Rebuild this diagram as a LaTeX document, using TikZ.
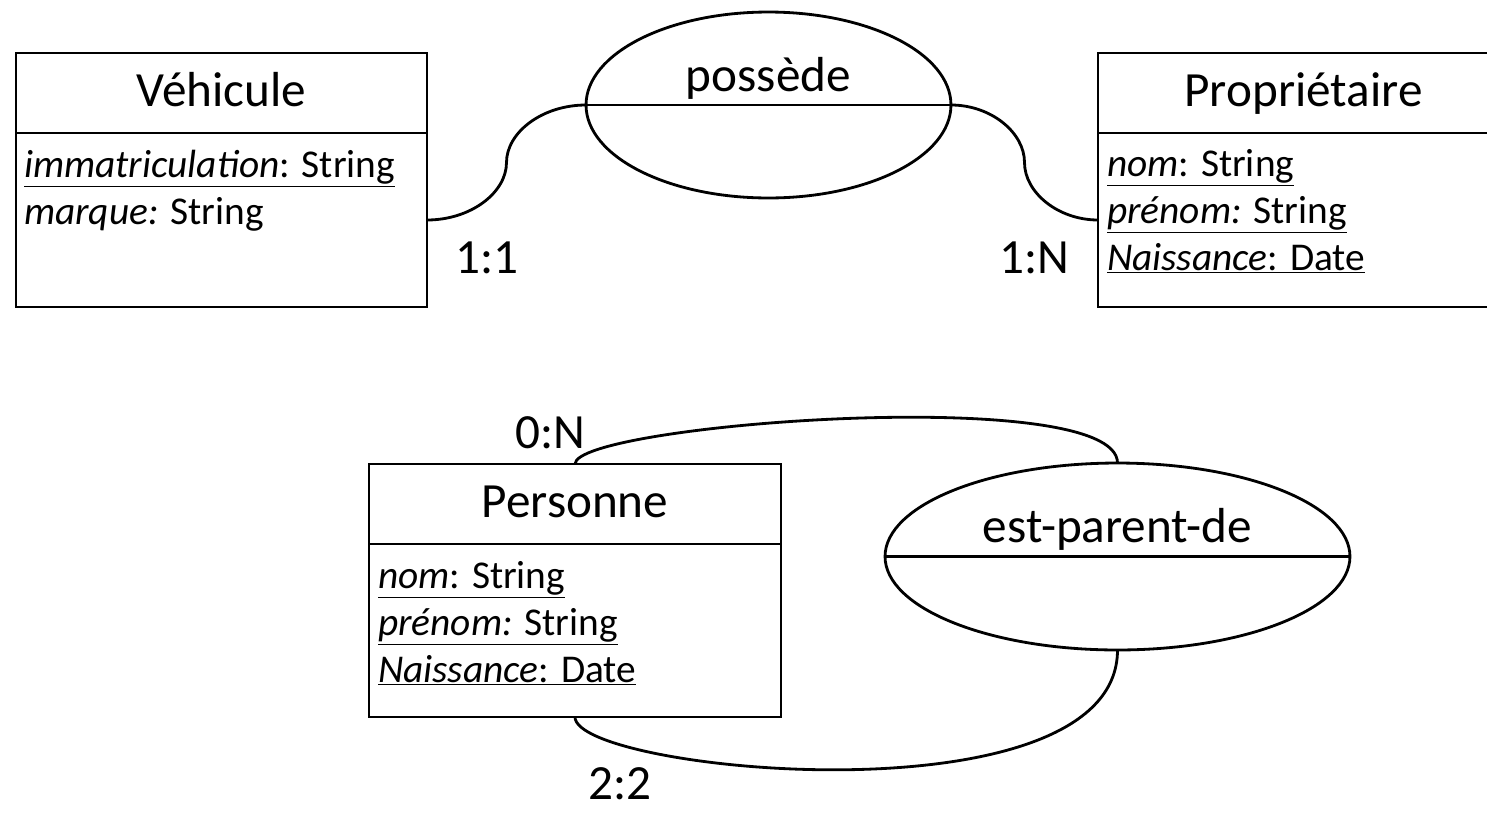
\documentclass[tikz,border=0pt]{standalone}
\usepackage{fontspec}
\setmainfont{Carlito}
\usetikzlibrary{shapes.geometric,calc}
\newcommand{\ttlsize}{\fontsize{28}{33}\selectfont}
\newcommand{\attsize}{\fontsize{22.4}{27}\selectfont}

\begin{document}
\begin{tikzpicture}[x=0.02cm,y=-0.02cm,line width=1.6pt,
    every node/.style={inner sep=0pt,outer sep=0pt},
    titlebox/.style={draw,minimum width=8.22cm,minimum height=1.6cm,text height=15.9pt,text depth=0pt,font=\ttlsize},
    attbox/.style={draw,minimum width=8.22cm,minimum height=3.48cm},
    attr/.style={anchor=base west,font=\attsize},
    relship/.style={draw,ellipse},
    card/.style={font=\ttlsize}]

            \useasboundingbox (0,0) rectangle (1487,812);
            \clip (0,0) rectangle (1487,812);

            % Entity: Vehicule
            \node[titlebox] (vehtitle) at (221.5,93) {Véhicule};
            \node[attbox] (vehattr) at (221.5,220) {};
            \node[attr] (vehA) at ($(vehattr.north west)+(8,44)$) {\underline{\textit{immatriculation}: String}};
            \node[attr] (vehB) at ($(vehA.base west)+(0,47)$) {\textit{marque:} String};

            % Entity: Proprietaire
            \node[titlebox] (protitle) at (1303.5,93) {Propriétaire};
            \node[attbox] (proattr) at (1303.5,220) {};
            \node[attr] (proA) at ($(proattr.north west)+(9,43)$) {\underline{\textit{nom}: String}};
            \node[attr] (proB) at ($(proA.base west)+(0,47)$) {\underline{\textit{prénom:} String}};
            \node[attr] (proC) at ($(proB.base west)+(0,47)$) {\underline{\textit{Naissance}: Date}};

            % Relationship: possede
            \node[relship,minimum width=7.3cm,minimum height=3.72cm] (pos) at (768.5,105) {};
            \draw (pos.west) -- (pos.east);
            \node[anchor=base,font=\ttlsize] (posname) at ($(pos.center)+(0,-14)$) {possède};

            % S-shaped links, vertical in the middle
            \coordinate (m1) at ($(vehattr.east)!0.5!(pos.west)$);
            \coordinate (m2) at ($(pos.east)!0.5!(proattr.west)$);
            \draw (vehattr.east) .. controls +(44,0) and +(0,30) .. (m1)
                                 .. controls +(0,-30) and +(-44,0) .. (pos.west);
            \draw (pos.east) .. controls +(40,0) and +(0,-30) .. (m2)
                             .. controls +(0,30) and +(-40,0) .. (proattr.west);

            \node[card] (c11) at (487,258) {1:1};
            \node[card] (c1N) at (1034,258) {1:N};

            % Entity: Personne
            \node[titlebox,minimum width=8.24cm] (pertitle) at (575,504) {Personne};
            \node[attbox,minimum width=8.24cm,minimum height=3.46cm] (perattr) at (575,630.5) {};
            \node[attr] (perA) at ($(perattr.north west)+(9,44)$) {\underline{\textit{nom}: String}};
            \node[attr] (perB) at ($(perA.base west)+(0,47)$) {\underline{\textit{prénom:} String}};
            \node[attr] (perC) at ($(perB.base west)+(0,47)$) {\underline{\textit{Naissance}: Date}};

            % Relationship: est-parent-de
            \node[relship,minimum width=9.3cm,minimum height=3.74cm] (rel) at (1117.5,556.5) {};
            \draw (rel.west) -- (rel.east);
            \node[anchor=base,font=\ttlsize] (relname) at ($(rel.center)+(0,-14)$) {est-parent-de};

            \draw (pertitle.north) .. controls +(0,-40) and +(0,-80) .. (rel.north);
            \draw (perattr.south) .. controls +(0,55) and +(0,175) .. (rel.south);

            \node[card] (c0N) at (550,433) {0:N};
            \node[card] (c22) at (620,784) {2:2};

\end{tikzpicture}
\end{document}
